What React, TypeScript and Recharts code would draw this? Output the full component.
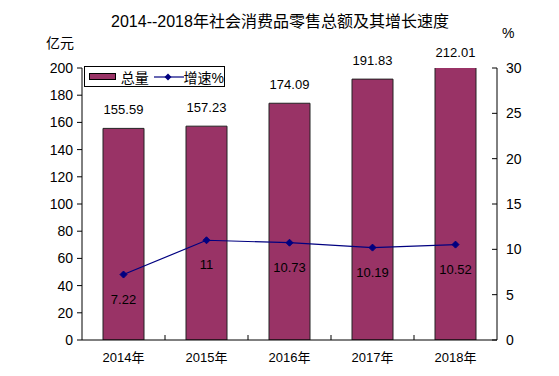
import { Bar, ComposedChart, LabelList, Legend, Line, XAxis, YAxis } from "recharts";

const years = ["2014年", "2015年", "2016年", "2017年", "2018年"];
const totals = [155.59, 157.23, 174.09, 191.83, 212.01];
const growth = [7.22, 11, 10.73, 10.19, 10.52];
const leftTicks = [0, 20, 40, 60, 80, 100, 120, 140, 160, 180, 200];
const rightTicks = [0, 5, 10, 15, 20, 25, 30];

const data = years.map((year, i) => ({ year, total: totals[i], growth: growth[i] }));

const W = 551;
const H = 368;
const MARGIN = { top: 60, right: 0, bottom: 0, left: 0 };
const BAR_COLOR = "#993366";
const LINE_COLOR = "#000080";
const FONT = '"Liberation Sans", Arial, "Noto Sans CJK SC", sans-serif';
const X_TICK_MARGIN = 13;

function YearTick(props: any) {
  const { x, y, payload, index, visibleTicksCount } = props;
  const half = payload?.offset ?? (props.width ?? 0) / ((visibleTicksCount || 1) * 2);
  const axisY = y - X_TICK_MARGIN;
  return (
    <g>
      {index < visibleTicksCount - 1 && (
        <line x1={x + half} x2={x + half} y1={axisY} y2={axisY - 5} stroke="#000" />
      )}
      <text x={x} y={y} dy="0.71em" textAnchor="middle" fontSize={13} fill="#000" fontFamily={FONT}>
        {payload.value}
      </text>
    </g>
  );
}

function TotalLabel(props: any) {
  const { x, y, width, value } = props;
  // the 2018 bar runs past the axis top, keep its label just above the plot
  const top = Math.max(y, MARGIN.top + 3);
  return (
    <text x={x + width / 2} y={top - 14} textAnchor="middle" fontSize={13} fill="#000" fontFamily={FONT}>
      {value}
    </text>
  );
}

function Diamond(props: any) {
  const { cx, cy } = props;
  if (cx == null || cy == null) return null;
  const r = 3.5;
  return (
    <path
      d={`M${cx},${cy - r}L${cx + r},${cy}L${cx},${cy + r}L${cx - r},${cy}Z`}
      fill={LINE_COLOR}
      stroke={LINE_COLOR}
    />
  );
}

function LegendBox() {
  return (
    <div
      style={{
        border: "1px solid #000",
        background: "#fff",
        display: "flex",
        alignItems: "center",
        height: 21,
        width: 141,
        boxSizing: "border-box",
        paddingLeft: 4,
        fontSize: 14,
        fontFamily: FONT,
        color: "#000",
        whiteSpace: "nowrap",
      }}
    >
      <span
        style={{
          display: "inline-block",
          width: 27,
          height: 7,
          background: BAR_COLOR,
          border: "1px solid #000",
          boxSizing: "border-box",
        }}
      />
      <span style={{ marginLeft: 5 }}>总量</span>
      <svg width={30} height={10} style={{ marginLeft: 5 }}>
        <line x1={0} x2={30} y1={5} y2={5} stroke={LINE_COLOR} strokeWidth={1.2} />
        <path d="M14,1.5L17.5,5L14,8.5L10.5,5Z" fill={LINE_COLOR} />
      </svg>
      <span>增速%</span>
    </div>
  );
}

export default function App() {
  return (
    <div style={{ position: "relative", width: W, height: H, fontFamily: FONT, color: "#000" }}>
      <div
        style={{
          position: "absolute",
          left: 0,
          top: 4,
          width: 544,
          textAlign: "center",
          fontSize: 16,
          lineHeight: "20px",
        }}
      >
        2014--2018年社会消费品零售总额及其增长速度
      </div>
      <div style={{ position: "absolute", left: 38, top: 28, fontSize: 14, lineHeight: "14px" }}>亿元</div>
      <div style={{ position: "absolute", left: 494, top: 18, fontSize: 14, lineHeight: "14px" }}>%</div>

      <ComposedChart width={W} height={H} data={data} margin={MARGIN}>
        <XAxis
          xAxisId="cat"
          dataKey="year"
          height={36}
          axisLine={{ stroke: "#000" }}
          tickLine={false}
          tickSize={0}
          tickMargin={X_TICK_MARGIN}
          tick={<YearTick />}
          interval={0}
        />
        <YAxis
          yAxisId="left"
          width={74}
          domain={[0, 200]}
          ticks={leftTicks}
          allowDataOverflow
          axisLine={{ stroke: "#000" }}
          tickLine={{ stroke: "#000" }}
          tickSize={5}
          tickMargin={4}
          tick={{ fontSize: 14, fill: "#000", fontFamily: FONT }}
          interval={0}
        />
        <YAxis
          yAxisId="right"
          orientation="right"
          width={62}
          domain={[0, 30]}
          ticks={rightTicks}
          axisLine={{ stroke: "#000" }}
          tickLine={{ stroke: "#000" }}
          tickSize={-5}
          tickMargin={14}
          tick={{ fontSize: 14, fill: "#000", fontFamily: FONT }}
          interval={0}
        />
        <Legend
          verticalAlign="middle"
          align="center"
          content={<LegendBox />}
          wrapperStyle={{ left: 76, top: 58, width: 141, height: 21 }}
        />
        <Bar
          xAxisId="cat"
          yAxisId="left"
          dataKey="total"
          fill={BAR_COLOR}
          stroke="#222"
          strokeWidth={1}
          barSize={41}
          isAnimationActive={false}
        >
          <LabelList dataKey="total" content={<TotalLabel />} />
        </Bar>
        <Line
          xAxisId="cat"
          yAxisId="right"
          dataKey="growth"
          stroke={LINE_COLOR}
          strokeWidth={1.2}
          dot={<Diamond />}
          activeDot={false}
          isAnimationActive={false}
        >
          <LabelList
            dataKey="growth"
            position="bottom"
            offset={20}
            fontSize={13}
            fill="#000"
            fontFamily={FONT}
          />
        </Line>
      </ComposedChart>
    </div>
  );
}
